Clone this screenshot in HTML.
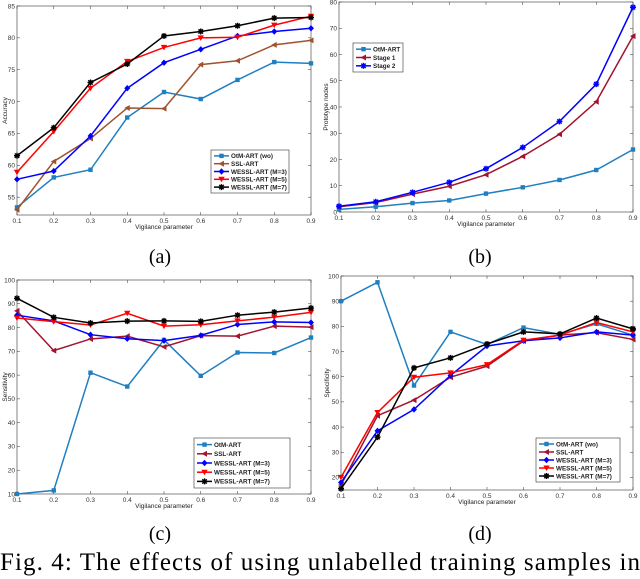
<!DOCTYPE html>
<html><head><meta charset="utf-8"><style>
body{margin:0;background:#fff;}
svg{display:block;font-family:"Liberation Sans",sans-serif;}
</style></head><body>
<svg id="fig" width="640" height="579" viewBox="0 0 640 579" xmlns="http://www.w3.org/2000/svg">
<text style="font-family:'Liberation Serif','Times New Roman',serif" x="160" y="263" font-size="20" text-anchor="middle">(a)</text>
<text style="font-family:'Liberation Serif','Times New Roman',serif" x="480" y="263" font-size="20" text-anchor="middle">(b)</text>
<text style="font-family:'Liberation Serif','Times New Roman',serif" x="160" y="540" font-size="20" text-anchor="middle">(c)</text>
<text style="font-family:'Liberation Serif','Times New Roman',serif" x="480" y="540" font-size="20" text-anchor="middle">(d)</text>
<text style="font-family:'Liberation Serif','Times New Roman',serif" x="0" y="570" font-size="25" textLength="640" lengthAdjust="spacing">Fig. 4: The effects of using unlabelled training samples in</text>
</svg>
<script>
const xCats=[0.1,0.2,0.3,0.4,0.5,0.6,0.7,0.8,0.9];
const aOtM=[53.4,58.1,59.3,67.5,71.5,70.4,73.4,76.2,76.0];
const aSSL=[53.0,60.6,64.2,69.0,68.9,75.8,76.4,78.9,79.6];
const aM3=[57.8,59.1,64.6,72.1,76.1,78.2,80.3,81.0,81.5];
const aM5=[58.9,65.3,72.1,76.3,78.5,80.0,80.1,82.0,83.4];
const aM7=[61.5,65.9,73.0,75.9,80.3,81.0,81.9,83.1,83.2];
const aTicks=[55,60,65,70,75,80,85];
const bOtM=[1,2,3.4,4.4,7,9.4,12.2,16,23.8];
const bS1=[2,3.6,6.8,9.8,14.2,21.2,29.6,42,67];
const bS2=[2.2,3.9,7.5,11.3,16.5,24.6,34.5,48.7,78];
const bTicks=[0,10,20,30,40,50,60,70,80];
const cOtM=[10,11.5,61,55.2,74.8,59.7,69.5,69.3,75.8];
const cSSL=[87,70.3,75.2,76.4,71.9,76.6,76.4,80.6,80.2];
const cM3=[85.2,82.8,77.0,75.3,74.5,76.7,81.3,82.4,82.1];
const cM5=[84,82.5,81.1,86,80.6,81.2,82.8,84.4,86.4];
const cM7=[92.3,84.3,81.9,82.7,82.8,82.6,85.2,86.5,88.2];
const cTicks=[10,20,30,40,50,60,70,80,90,100];
const dOtM=[90,97.5,56.5,77.8,72.8,79.5,76.8,81,76.5];
const dSSL=[17,44.5,50.7,59.8,64.2,74.2,76.5,77.5,74.8];
const dM3=[18,38.5,47,60.5,72.2,74.3,75.4,77.8,76.5];
const dM5=[20,45.8,59.8,61.5,64.8,74.5,76.5,81.5,77.8];
const dM7=[15.5,36,63.5,67.5,73,77.8,77,83.3,79];
const dTicks=[20,30,40,50,60,70,80,90,100];
const xTickLabels=['0.1','0.2','0.3','0.4','0.5','0.6','0.7','0.8','0.9'];

const NS='http://www.w3.org/2000/svg';
const svg=document.getElementById('fig');
function mk(tag,attrs,parent){const e=document.createElementNS(NS,tag);for(const k in attrs)e.setAttribute(k,attrs[k]);(parent||svg).appendChild(e);return e;}
function marker(g,shape,x,y,c){
  let e;
  if(shape==='sq'){e=mk('rect',{x:x-2.2,y:y-2.2,width:4.4,height:4.4,fill:c},g);}
  else if(shape==='tl'){e=mk('polygon',{points:`${x-3},${y} ${x+2.5},${y-3} ${x+2.5},${y+3}`,fill:c},g);}
  else if(shape==='dia'){e=mk('polygon',{points:`${x},${y-3.2} ${x+3},${y} ${x},${y+3.2} ${x-3},${y}`,fill:c},g);}
  else if(shape==='td'){e=mk('polygon',{points:`${x-3.2},${y-2.5} ${x+3.2},${y-2.5} ${x},${y+3}`,fill:c},g);}
  else {e=mk('path',{d:`M${x-3},${y}H${x+3}M${x},${y-3}V${y+3}M${x-2.2},${y-2.2}L${x+2.2},${y+2.2}M${x+2.2},${y-2.2}L${x-2.2},${y+2.2}`,stroke:c,'stroke-width':1.4},g);}
  
  
}
function chart(o){
  const g=mk('g',{});
  
  
  const xs=v=>o.x0+(v-0.1)/0.8*(o.x1-o.x0);
  const ys=v=>o.yb-(v-o.ymin)/(o.ymax-o.ymin)*(o.yb-o.yt);
  const box=mk('rect',{x:o.x0,y:o.yt,width:o.x1-o.x0,height:o.yb-o.yt,fill:'#fff',stroke:'#333','stroke-width':0.6},g);
  
  
  xCats.forEach((v,i)=>{
    const x=xs(v);
    mk('line',{x1:x,x2:x,y1:o.yb,y2:o.yb-3,stroke:'#333','stroke-width':0.5},g);
    mk('line',{x1:x,x2:x,y1:o.yt,y2:o.yt+3,stroke:'#333','stroke-width':0.5},g);
    const t=mk('text',{x:x,y:o.yb+8,'font-size':6.5,'text-anchor':'middle',fill:'#333'},g);
    t.textContent=xTickLabels[i];
    
    
  });
  o.ticks.forEach(v=>{
    const y=ys(v);
    mk('line',{x1:o.x0,x2:o.x0+3,y1:y,y2:y,stroke:'#333','stroke-width':0.5},g);
    mk('line',{x1:o.x1,x2:o.x1-3,y1:y,y2:y,stroke:'#333','stroke-width':0.5},g);
    const t=mk('text',{x:o.x0-2,y:y+2.3,'font-size':6.5,'text-anchor':'end',fill:'#333'},g);
    t.textContent=v;
    
    
  });
  const xl=mk('text',{x:(o.x0+o.x1)/2,y:o.yb+14,'font-size':6.5,'text-anchor':'middle',fill:'#222'},g);
  xl.textContent='Vigilance parameter';
  
  
  const cy=(o.yt+o.yb)/2;
  const yl=mk('text',{x:o.ylx,y:cy,'font-size':6.5,'text-anchor':'middle',fill:'#222',transform:`rotate(-90 ${o.ylx} ${cy})`},g);
  yl.textContent=o.ytitle;
  
  
  o.series.forEach(s=>{
    const pts=s.data.map((v,i)=>xs(xCats[i])+','+ys(v)).join(' ');
    const pl=mk('polyline',{points:pts,fill:'none',stroke:s.c,'stroke-width':1.5},g);
    
    
    s.data.forEach((v,i)=>marker(g,s.m,xs(xCats[i]),ys(v),s.c));
  });
  const L=o.leg;
  const lg=mk('g',{},g);
  
  
  mk('rect',{x:L.x,y:L.y,width:L.w,height:L.h,fill:'#fff',stroke:'#333','stroke-width':0.6},lg);
  const step=(L.h-4)/o.series.length;
  o.series.forEach((s,i)=>{
    const y=L.y+2+step*(i+0.5);
    mk('line',{x1:L.x+3,x2:L.x+18,y1:y,y2:y,stroke:s.c,'stroke-width':1.5},lg);
    marker(lg,s.m,L.x+10.5,y,s.c);
    const t=mk('text',{x:L.x+20,y:y+2.3,'font-size':6.3,'font-weight':'bold',fill:'#222'},lg);
    t.textContent=s.n;
    
    
  });
}
const cBlue='#1f7fc0',cBrown='#a0522d',cMaroon='#a2142f';
chart({name:'chart-a-accuracy',x0:17,x1:311,yt:6,yb:215,ymin:52.2,ymax:85,ticks:aTicks,ylx:7,ytitle:'Accuracy',
  series:[{n:'OtM-ART (wo)',data:aOtM,c:cBlue,m:'sq'},{n:'SSL-ART',data:aSSL,c:cBrown,m:'tl'},{n:'WESSL-ART (M=3)',data:aM3,c:'#0000ff',m:'dia'},{n:'WESSL-ART (M=5)',data:aM5,c:'#ff0000',m:'td'},{n:'WESSL-ART (M=7)',data:aM7,c:'#000',m:'st'}],
  leg:{x:211,y:150,w:78,h:43}});
chart({name:'chart-b-prototype-nodes',x0:339,x1:633,yt:2,yb:212,ymin:0,ymax:80,ticks:bTicks,ylx:328,ytitle:'Prototype nodes',
  series:[{n:'OtM-ART',data:bOtM,c:cBlue,m:'sq'},{n:'Stage 1',data:bS1,c:cMaroon,m:'tl'},{n:'Stage 2',data:bS2,c:'#0000ff',m:'st'}],
  leg:{x:353,y:43,w:50,h:29}});
chart({name:'chart-c-sensitivity',x0:17,x1:311,yt:280,yb:494,ymin:10,ymax:100,ticks:cTicks,ylx:7,ytitle:'Sensitivity',
  series:[{n:'OtM-ART',data:cOtM,c:cBlue,m:'sq'},{n:'SSL-ART',data:cSSL,c:cMaroon,m:'tl'},{n:'WESSL-ART (M=3)',data:cM3,c:'#0000ff',m:'dia'},{n:'WESSL-ART (M=5)',data:cM5,c:'#ff0000',m:'td'},{n:'WESSL-ART (M=7)',data:cM7,c:'#000',m:'st'}],
  leg:{x:194,y:438,w:96,h:50}});
chart({name:'chart-d-specificity',x0:341,x1:633,yt:276,yb:490,ymin:15,ymax:100,ticks:dTicks,ylx:329,ytitle:'Specificity',
  series:[{n:'OtM-ART (wo)',data:dOtM,c:cBlue,m:'sq'},{n:'SSL-ART',data:dSSL,c:cMaroon,m:'tl'},{n:'WESSL-ART (M=3)',data:dM3,c:'#0000ff',m:'dia'},{n:'WESSL-ART (M=5)',data:dM5,c:'#ff0000',m:'td'},{n:'WESSL-ART (M=7)',data:dM7,c:'#000',m:'st'}],
  leg:{x:536,y:438,w:84,h:44}});
</script>
</body></html>
